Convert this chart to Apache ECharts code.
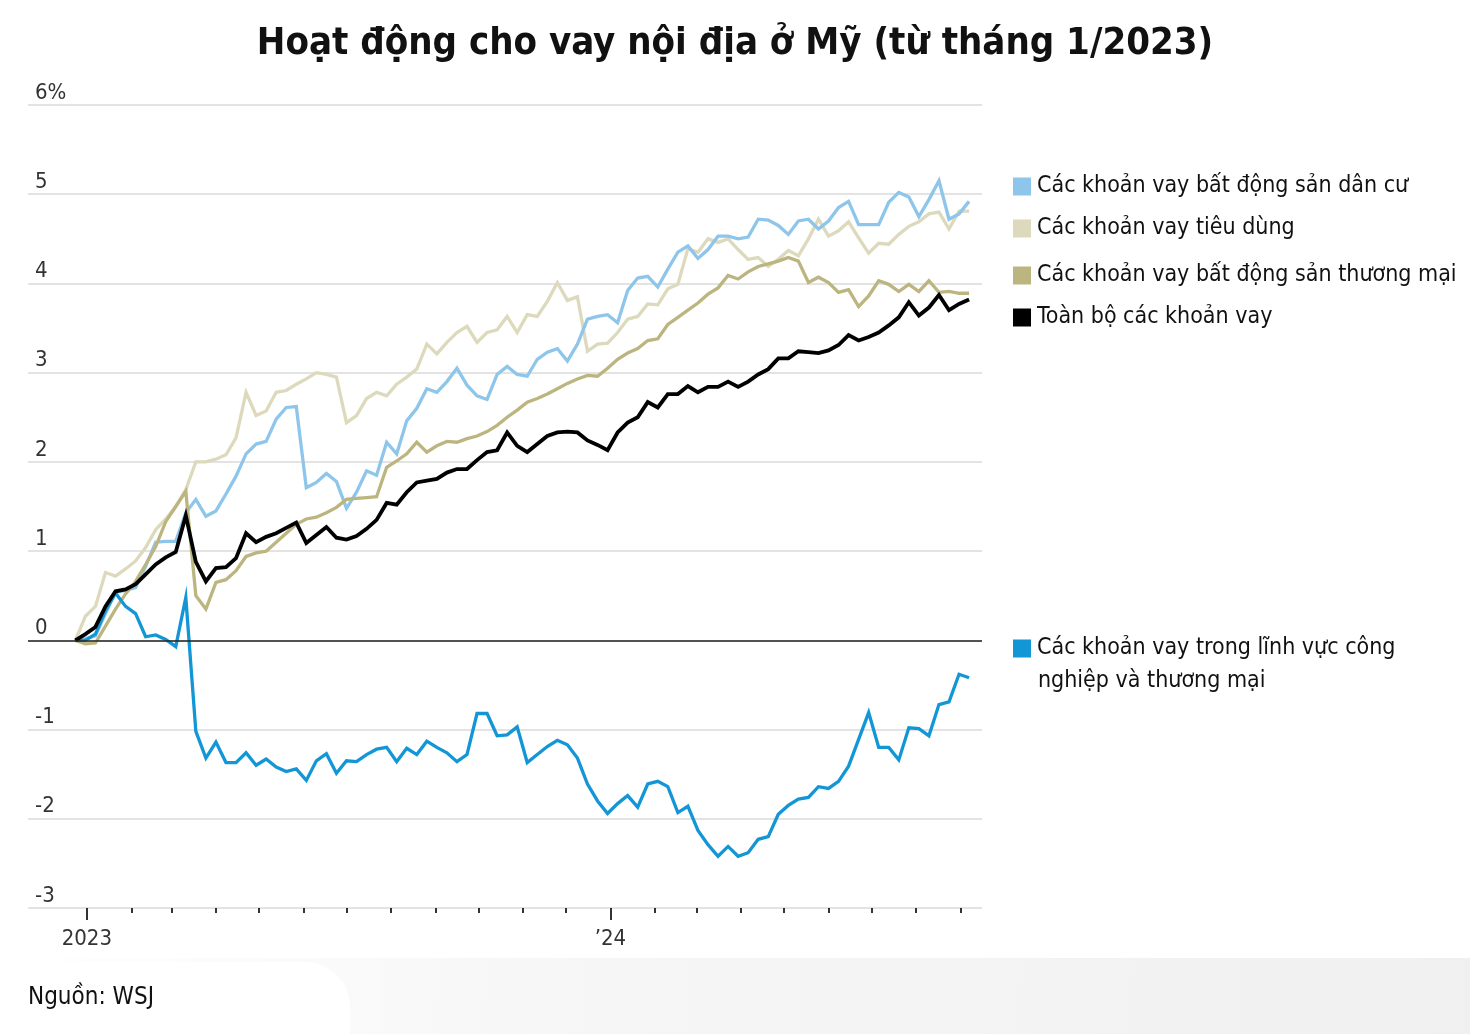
<!DOCTYPE html>
<html>
<head>
<meta charset="utf-8">
<script src="https://cdn.jsdelivr.net/npm/echarts@6/dist/echarts.min.js"></script>
<style>html,body{margin:0;padding:0;background:#fff}#c{width:1470px;height:1034px}</style>
</head>
<body>
<div id="c"></div>
<script>
const titleText = 'Hoạt động cho vay nội địa ở Mỹ (từ tháng 1/2023)';
const sourceText = 'Nguồn: WSJ';
const firstWeek = '2022-12-24';
const axisStart = '2022-11-21';
const axisEnd = '2024-09-16';
const firstTickMonth = '2023-01-01';
const yearLabels = {'2023': '2023', '2024': '’24'};
const yTickLabels = {'-3': '-3', '-2': '-2', '-1': '-1', '0': '0', '1': '1', '2': '2', '3': '3', '4': '4', '5': '5', '6': '6%'};

const nameResidential = 'Các khoản vay bất động sản dân cư';
const nameConsumer = 'Các khoản vay tiêu dùng';
const nameCommercial = 'Các khoản vay bất động sản thương mại';
const nameAll = 'Toàn bộ các khoản vay';
const nameIndustrial = 'Các khoản vay trong lĩnh vực công';
const nameIndustrial2 = 'nghiệp và thương mại';

const residential = [0,0.02,0.05,0.3,0.54,0.56,0.59,0.83,1.1,1.11,1.11,1.43,1.58,1.39,1.45,1.64,1.84,2.09,2.2,2.23,2.48,2.61,2.62,1.71,1.77,1.87,1.78,1.48,1.66,1.9,1.85,2.22,2.09,2.46,2.6,2.82,2.78,2.9,3.05,2.86,2.74,2.7,2.98,3.07,2.98,2.96,3.15,3.23,3.27,3.13,3.32,3.6,3.63,3.65,3.56,3.92,4.06,4.08,3.96,4.16,4.35,4.42,4.28,4.38,4.53,4.53,4.5,4.52,4.72,4.71,4.65,4.55,4.7,4.72,4.61,4.7,4.85,4.92,4.66,4.66,4.66,4.91,5.02,4.97,4.75,4.94,5.15,4.72,4.78,4.92];
const consumer = [0,0.27,0.38,0.76,0.72,0.8,0.89,1.04,1.24,1.36,1.5,1.69,2.0,2.0,2.03,2.08,2.27,2.78,2.52,2.57,2.78,2.8,2.87,2.93,3.0,2.98,2.95,2.44,2.52,2.71,2.78,2.74,2.87,2.95,3.04,3.32,3.21,3.34,3.45,3.52,3.34,3.45,3.48,3.63,3.45,3.65,3.63,3.8,4.01,3.81,3.85,3.24,3.32,3.33,3.45,3.6,3.63,3.77,3.76,3.94,3.99,4.39,4.35,4.5,4.46,4.5,4.38,4.27,4.29,4.19,4.27,4.37,4.31,4.5,4.72,4.53,4.59,4.69,4.51,4.34,4.45,4.44,4.55,4.64,4.69,4.78,4.8,4.61,4.81,4.81];
const commercialRE = [0,-0.04,-0.03,0.16,0.35,0.52,0.66,0.85,1.05,1.33,1.5,1.67,0.5,0.35,0.65,0.68,0.78,0.94,0.98,1.0,1.1,1.2,1.3,1.36,1.38,1.43,1.49,1.58,1.59,1.6,1.61,1.94,2.01,2.09,2.22,2.11,2.18,2.23,2.22,2.26,2.29,2.34,2.41,2.5,2.58,2.67,2.71,2.76,2.82,2.88,2.93,2.97,2.96,3.05,3.15,3.22,3.27,3.36,3.38,3.54,3.62,3.7,3.78,3.88,3.95,4.09,4.05,4.13,4.19,4.22,4.25,4.29,4.25,4.01,4.07,4.01,3.9,3.93,3.74,3.86,4.03,3.99,3.91,3.99,3.91,4.03,3.9,3.91,3.89,3.89];
const allLoans = [0,0.07,0.15,0.38,0.55,0.57,0.63,0.74,0.85,0.93,0.99,1.4,0.88,0.66,0.81,0.82,0.92,1.2,1.1,1.16,1.2,1.26,1.32,1.09,1.18,1.27,1.15,1.13,1.17,1.25,1.35,1.54,1.52,1.66,1.77,1.79,1.81,1.88,1.92,1.92,2.02,2.11,2.13,2.33,2.18,2.11,2.2,2.29,2.33,2.34,2.33,2.24,2.19,2.13,2.33,2.44,2.5,2.67,2.61,2.76,2.76,2.85,2.78,2.84,2.84,2.9,2.84,2.9,2.98,3.04,3.16,3.16,3.24,3.23,3.22,3.25,3.31,3.42,3.36,3.4,3.45,3.53,3.62,3.79,3.64,3.73,3.87,3.7,3.77,3.82];
const industrial = [0,0,0.07,0.33,0.53,0.38,0.3,0.04,0.06,0.01,-0.07,0.48,-1.02,-1.32,-1.14,-1.37,-1.37,-1.26,-1.4,-1.33,-1.42,-1.47,-1.44,-1.57,-1.35,-1.27,-1.49,-1.35,-1.36,-1.28,-1.22,-1.2,-1.36,-1.21,-1.28,-1.13,-1.2,-1.26,-1.36,-1.28,-0.82,-0.82,-1.07,-1.06,-0.97,-1.37,-1.28,-1.19,-1.12,-1.17,-1.32,-1.61,-1.8,-1.94,-1.83,-1.74,-1.87,-1.61,-1.58,-1.64,-1.93,-1.86,-2.13,-2.29,-2.42,-2.31,-2.42,-2.38,-2.23,-2.2,-1.95,-1.85,-1.78,-1.76,-1.64,-1.66,-1.58,-1.41,-1.11,-0.81,-1.2,-1.2,-1.34,-0.98,-0.99,-1.07,-0.72,-0.69,-0.38,-0.42];

const FONT = "'Liberation Sans Narrow', 'DejaVu Sans Condensed', 'Roboto', sans-serif";

function addDays(s, n) {
  const d = new Date(s + 'T00:00:00Z');
  d.setUTCDate(d.getUTCDate() + n);
  return d.toISOString().slice(0, 10);
}
const days = [];
for (let s = axisStart; s <= axisEnd; s = addDays(s, 1)) days.push(s);
const weeks = allLoans.map((_, i) => addDays(firstWeek, 7 * i));
const pairs = arr => arr.map((v, i) => [weeks[i], v]);

function lineSeries(name, arr, color, width, extra) {
  return Object.assign({
    name: name, type: 'line', data: pairs(arr), showSymbol: false, symbol: 'none',
    lineStyle: {color: color, width: width, join: 'miter'}, itemStyle: {color: color},
    emphasis: {disabled: true}, silent: true, animation: false
  }, extra || {});
}

const chart = echarts.init(document.getElementById('c'), null, {renderer: 'canvas'});
const legendText = {fontSize: 23, color: '#111', fontFamily: FONT, padding: [0, 0, 0, 1]};
chart.setOption({
  backgroundColor: '#fff',
  animation: false,
  title: {
    text: titleText, left: 'center', top: 20,
    textStyle: {fontSize: 38, fontWeight: 'bold', color: '#111', fontFamily: FONT}
  },
  grid: {left: 28, right: 488, top: 105, bottom: 126, containLabel: false},
  legend: [
    {data: [nameResidential, nameConsumer], left: 1008, top: 170, orient: 'vertical', itemGap: 19,
     icon: 'rect', itemWidth: 18, itemHeight: 18, selectedMode: false, textStyle: legendText},
    {data: [nameCommercial, nameAll], left: 1008, top: 259, orient: 'vertical', itemGap: 19,
     icon: 'rect', itemWidth: 18, itemHeight: 18, selectedMode: false, textStyle: legendText},
    {data: [nameIndustrial], left: 1008, top: 632, orient: 'vertical',
     icon: 'rect', itemWidth: 18, itemHeight: 18, selectedMode: false, textStyle: legendText}
  ],
  graphic: [
    {type: 'rect', left: 0, top: 958, z: -10, silent: true,
     shape: {width: 1470, height: 76},
     style: {fill: new echarts.graphic.LinearGradient(0, 0, 1, 1, [{offset: 0, color: '#ffffff'}, {offset: 0.4, color: '#f6f6f6'}, {offset: 1, color: '#f0f0f0'}])}},
    {type: 'rect', left: 0, top: 962, z: -9, silent: true,
     shape: {width: 350, height: 90, r: [0, 45, 0, 0]}, style: {fill: '#ffffff'}},
    {type: 'text', left: 1038, top: 670, silent: true,
     style: {text: nameIndustrial2, fontSize: 23, fill: '#111', fontFamily: FONT}},
    {type: 'text', left: 28, top: 986, silent: true,
     style: {text: sourceText, fontSize: 24, fill: '#111', fontFamily: FONT}}
  ],
  xAxis: [
    {
      type: 'category', data: days, boundaryGap: false, position: 'bottom',
      axisLine: {show: false, onZero: false},
      axisTick: {show: true, length: 5, interval: (i, v) => v >= firstTickMonth && v.slice(8) === '01', lineStyle: {color: '#333', width: 2}},
      axisLabel: {show: true, interval: (i, v) => v.slice(5) === '01-01', margin: 20,
        formatter: v => yearLabels[v.slice(0, 4)] || '', fontSize: 22, color: '#333', fontFamily: FONT},
      splitLine: {show: false}
    },
    {
      type: 'category', data: days, boundaryGap: false, position: 'bottom',
      axisLine: {show: false, onZero: false},
      axisTick: {show: true, length: 12, interval: (i, v) => v.slice(5) === '01-01', lineStyle: {color: '#333', width: 2}},
      axisLabel: {show: false}, splitLine: {show: false}
    }
  ],
  yAxis: {
    type: 'value', min: -3, max: 6, interval: 1,
    axisLine: {show: false}, axisTick: {show: false},
    splitLine: {show: true, lineStyle: {color: '#e3e3e3', width: 2}},
    axisLabel: {inside: true, margin: 7, align: 'left', verticalAlign: 'bottom', padding: [0, 0, 1, 0],
      formatter: v => yTickLabels[String(v)], fontSize: 22, color: '#333', fontFamily: FONT}
  },
  series: [
    lineSeries(nameConsumer, consumer, '#ddd9bc', 3.3, {
      markLine: {silent: true, symbol: ['none', 'none'], label: {show: false}, animation: false,
        lineStyle: {color: '#222', width: 1.5, type: 'solid'}, data: [{yAxis: 0}]}
    }),
    lineSeries(nameResidential, residential, '#8ec5ea', 3.3),
    lineSeries(nameCommercial, commercialRE, '#bcb57f', 3.3),
    lineSeries(nameIndustrial, industrial, '#1296d6', 3.3),
    lineSeries(nameAll, allLoans, '#000000', 3.8)
  ]
});
</script>
</body>
</html>
